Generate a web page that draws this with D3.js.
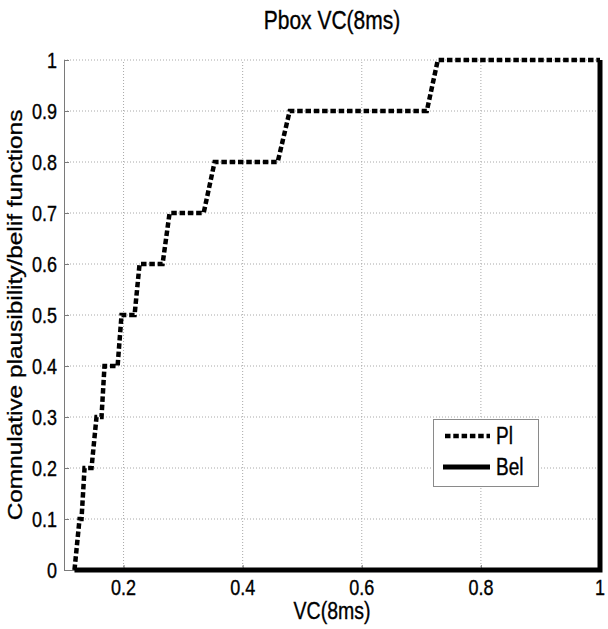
<!DOCTYPE html>
<html>
<head>
<meta charset="utf-8">
<script src="https://cdn.jsdelivr.net/npm/d3@7"></script>
<style>
  body { margin: 0; background: #fff; }
  text { font-family: "Liberation Sans", Arial, sans-serif; fill: #000; stroke: #000; stroke-width: 0.3px; }
</style>
</head>
<body>
<div id="chart"></div>
<script>
// Pl staircase: each level, x where the curve reaches it and x where it leaves it
const plLevels = [0, 0.1, 0.2, 0.3, 0.4, 0.5, 0.6, 0.7, 0.8, 0.9, 1.0];
const plReach  = [0.1176, 0.1261, 0.1345, 0.1546, 0.1680, 0.1966, 0.2269, 0.2773, 0.3529, 0.4790, 0.7277];
const plLeave  = [0.1176, 0.1294, 0.1462, 0.1630, 0.1900, 0.2185, 0.2655, 0.3345, 0.4588, 0.7092, 1.0];

// Bel: zero until 1, then jumps to 1
const belX = [0.1176, 1.0, 1.0];
const belY = [0, 0, 1];

const xTicks = [0.2, 0.4, 0.6, 0.8, 1];
const yTicks = [0, 0.1, 0.2, 0.3, 0.4, 0.5, 0.6, 0.7, 0.8, 0.9, 1];
const seriesNames = ["Pl", "Bel"];

const width = 608, height = 629;
const margin = { top: 60, right: 8, bottom: 59, left: 64 };
const SY = 1.22; // reference text is stretched vertically

const svg = d3.select("#chart").append("svg")
  .attr("width", width)
  .attr("height", height);

const x = d3.scaleLinear().domain([0.1, 1]).range([margin.left, width - margin.right]);
const y = d3.scaleLinear().domain([0, 1]).range([height - margin.bottom, margin.top]);

function tallText(g, tx, ty, str, size, anchor, rotate) {
  return g.append("text")
    .attr("transform", `translate(${tx},${ty}) scale(1,${SY})` + (rotate ? " rotate(-90)" : ""))
    .attr("text-anchor", anchor)
    .style("font-size", size + "px")
    .text(str);
}

// grid
const grid = svg.append("g").attr("class", "grid");
grid.selectAll("line.gx").data(xTicks).join("line")
  .attr("x1", d => x(d)).attr("x2", d => x(d))
  .attr("y1", y(0)).attr("y2", y(1))
  .attr("stroke", "#a8a8a8").attr("stroke-dasharray", "1,2");
grid.selectAll("line.gy").data(yTicks.slice(1)).join("line")
  .attr("x1", x(0.1)).attr("x2", x(1))
  .attr("y1", d => y(d)).attr("y2", d => y(d))
  .attr("stroke", "#a8a8a8").attr("stroke-dasharray", "1,2");

// axes (ticks pointing inward, like matlab)
const xAxis = svg.append("g")
  .attr("transform", `translate(0,${y(0)})`)
  .call(d3.axisBottom(x).tickValues(xTicks).tickSize(-5).tickSizeOuter(0).tickFormat(""));
const yAxis = svg.append("g")
  .attr("transform", `translate(${x(0.1)},0)`)
  .call(d3.axisLeft(y).tickValues(yTicks).tickSize(-5).tickSizeOuter(0).tickFormat(""));
[xAxis, yAxis].forEach(a => {
  a.select(".domain").attr("stroke", "#7a7a7a");
  a.selectAll(".tick line").attr("stroke", "#7a7a7a");
});

// tick labels
const fmt = d => d === 0 || d === 1 ? String(d) : d3.format(".1f")(d);
xTicks.forEach(d => tallText(svg, x(d), 595, fmt(d), 18, "middle"));
yTicks.forEach(d => tallText(svg, 57, y(d) + 0.358 * 18 * SY, fmt(d), 18, "end"));

// Pl curve
const plPts = [];
plLevels.forEach((lv, i) => {
  plPts.push([plReach[i], lv]);
  plPts.push([plLeave[i], lv]);
});
const line = d3.line().x(d => x(d[0])).y(d => y(d[1]));

svg.append("path")
  .datum(plPts)
  .attr("d", line)
  .attr("fill", "none")
  .attr("stroke", "#000")
  .attr("stroke-width", 4.5)
  .attr("stroke-dasharray", "5.5,2.8");

svg.append("path")
  .datum(belX.map((v, i) => [v, belY[i]]))
  .attr("d", line)
  .attr("fill", "none")
  .attr("stroke", "#000")
  .attr("stroke-width", 5);

// title and labels
tallText(svg, (x(0.1) + x(1)) / 2, 29, "Pbox VC(8ms)", 21, "middle");
tallText(svg, (x(0.1) + x(1)) / 2, 619, "VC(8ms)", 19.5, "middle");
tallText(svg, 22, (y(0) + y(1)) / 2, "Comnulative plausibility/belif functions", 20, "middle", true);

// legend
const legend = svg.append("g").attr("class", "legend");
legend.append("rect")
  .attr("x", 433.5).attr("y", 419.5)
  .attr("width", 105).attr("height", 67)
  .attr("fill", "#fff").attr("stroke", "#8a8a8a");
const legendStyle = [
  { dash: "5.5,2.8", w: 4.5, x1: 445, yy: 436 },
  { dash: null, w: 5, x1: 443, yy: 467 }
];
seriesNames.forEach((name, i) => {
  const s = legendStyle[i];
  legend.append("line")
    .attr("x1", s.x1).attr("x2", 490)
    .attr("y1", s.yy).attr("y2", s.yy)
    .attr("stroke", "#000").attr("stroke-width", s.w)
    .attr("stroke-dasharray", s.dash);
  tallText(legend, 496, s.yy + 0.358 * 19 * SY, name, 19, "start");
});
</script>
</body>
</html>
